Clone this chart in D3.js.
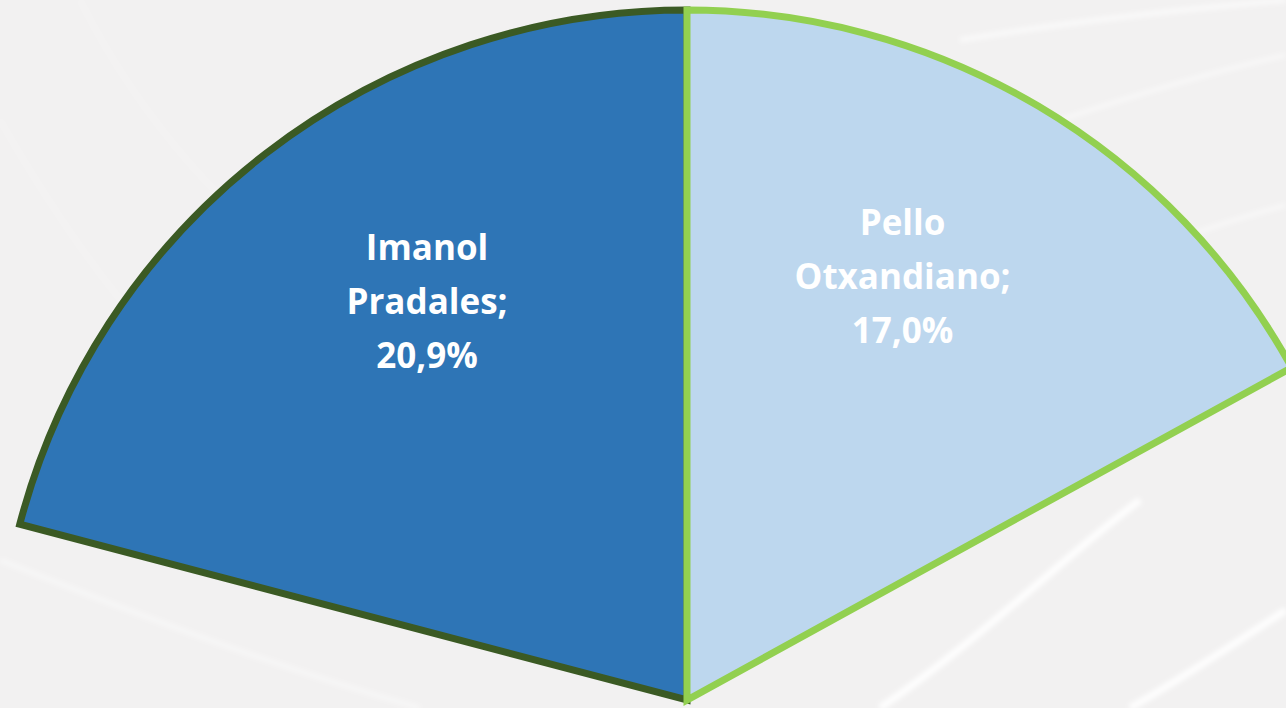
<!DOCTYPE html>
<html>
<head>
<meta charset="utf-8">
<script src="https://cdn.jsdelivr.net/npm/d3@7"></script>
<style>
  html, body { margin: 0; padding: 0; background: #f2f1f1; overflow: hidden; }
  svg { display: block; }
</style>
</head>
<body>
<svg id="chart" width="1286" height="708"></svg>
<script>
// ---- data ----
const categories = ["Imanol Pradales", "Pello Otxandiano"];
const nameLines = [["Imanol", "Pradales;"], ["Pello", "Otxandiano;"]];
const values = [20.9, 17.0];          // percent of total
const valueLabels = ["20,9%", "17,0%"];

// ---- styles / layout ----
const fills = ["#2e75b6", "#bdd7ee"];
const strokes = ["#3b5a24", "#92d050"];
const W = 1286, H = 708;
const cx = 687, cy = 700, R = 690;

const svg = d3.select("#chart");

// background decorative swooshes
const defs = svg.append("defs");
defs.append("filter").attr("id", "blur").append("feGaussianBlur").attr("stdDeviation", 2.5);
const bg = svg.append("g").attr("filter", "url(#blur)").attr("fill", "none").attr("stroke", "#ffffff");
const swooshes = [
  {d: "M880,708 C980,640 1060,560 1140,500", w: 7, o: 0.9},
  {d: "M1130,708 C1180,680 1240,640 1286,610", w: 7, o: 0.9},
  {d: "M960,40 C1080,20 1180,10 1286,0", w: 5, o: 0.6},
  {d: "M1060,120 C1150,90 1220,70 1286,55", w: 4, o: 0.5},
  {d: "M1150,250 C1200,230 1250,215 1286,205", w: 4, o: 0.5},
  {d: "M0,120 C80,260 160,360 260,440", w: 3, o: 0.2},
  {d: "M80,0 C140,120 230,220 330,290", w: 3, o: 0.2},
  {d: "M0,560 C200,640 320,680 420,708", w: 5, o: 0.4}
];
bg.selectAll("path").data(swooshes).join("path")
  .attr("d", d => d.d).attr("stroke-width", d => d.w).attr("stroke-opacity", d => d.o);

// angles: first slice ends at 12 o'clock going counter-clockwise, second starts there
const angle = d3.scaleLinear().domain([0, 100]).range([0, 2 * Math.PI]);
const slices = [
  {i: 0, startAngle: -angle(values[0]), endAngle: 0},
  {i: 1, startAngle: 0, endAngle: angle(values[1])}
];

const arc = d3.arc().innerRadius(0).outerRadius(R);
const g = svg.append("g").attr("transform", `translate(${cx},${cy})`);

g.selectAll("path.slice").data(slices).join("path")
  .attr("class", "slice")
  .attr("d", arc)
  .attr("fill", d => fills[d.i])
  .attr("stroke", d => strokes[d.i])
  .attr("stroke-width", 7)
  .attr("stroke-linejoin", "miter");

// labels
const labelR = 476, angFactor = 0.88;
const lineH = 54;
slices.forEach(d => {
  const mid = (d.startAngle + d.endAngle) / 2 * angFactor;
  const lx = labelR * Math.sin(mid), ly = -labelR * Math.cos(mid);
  const lines = nameLines[d.i].concat([valueLabels[d.i]]);
  const t = g.append("text")
    .attr("text-anchor", "middle")
    .attr("fill", "#ffffff")
    .attr("font-family", "'Open Sans', Lato, sans-serif")
    .attr("font-weight", "bold")
    .attr("font-size", 35);
  lines.forEach((s, k) => {
    t.append("tspan").attr("x", lx).attr("y", ly + (k - 1) * lineH + 13).text(s);
  });
});
</script>
</body>
</html>
